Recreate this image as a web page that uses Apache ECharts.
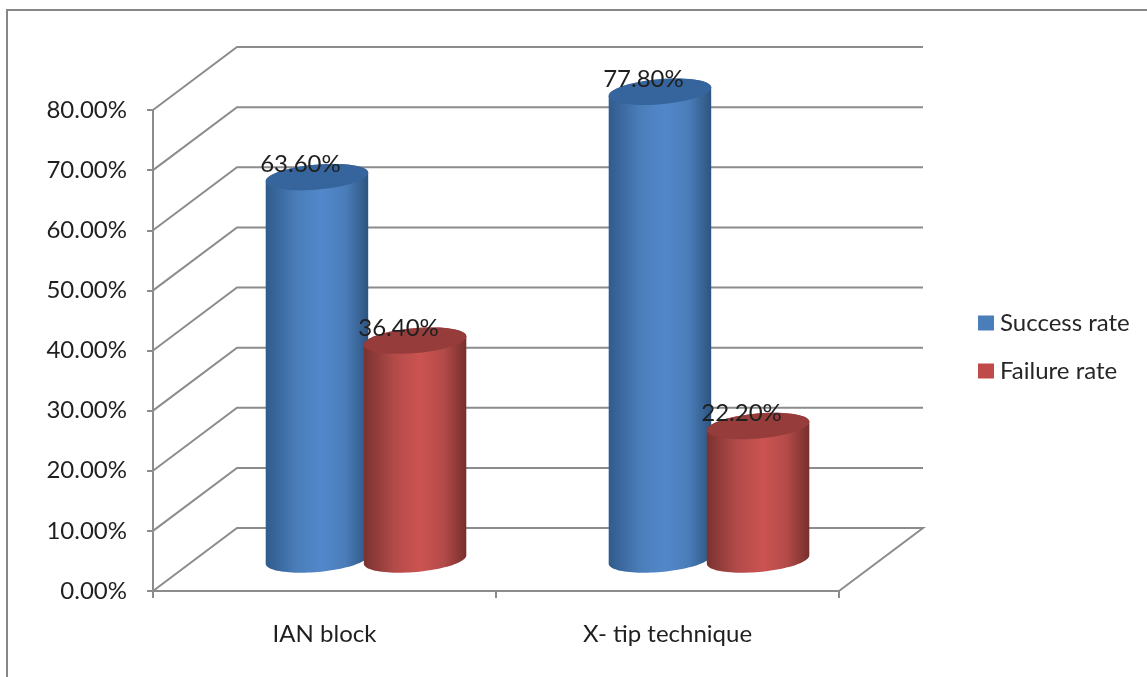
<!DOCTYPE html>
<html>
<head>
<meta charset="utf-8">
<style>
  html, body { margin: 0; padding: 0; background: #fff; }
  #chart { width: 1147px; height: 677px; }
</style>
<script src="https://cdn.jsdelivr.net/npm/echarts@6/dist/echarts.min.js"></script>
</head>
<body>
<div id="chart"></div>
<script>
var categories = ["IAN block", "X- tip technique"];
var successRate = [63.6, 77.8];
var failureRate = [36.4, 22.2];
var yTicks = [0, 10, 20, 30, 40, 50, 60, 70, 80];

var FONT = "Lato";
var LINE = "#8c8c8c";
var depthX = 84, depthY = 63; // 后墙相对前轴的偏移

var chart = echarts.init(document.getElementById("chart"));

// 斜椭圆取点
function ellipse(cx, cy, rx, ry, from, to) {
  var tilt = -5 * Math.PI / 180, pts = [], n = 48;
  for (var i = 0; i <= n; i++) {
    var a = from + (to - from) * i / n;
    var ex = rx * Math.cos(a), ey = ry * Math.sin(a);
    pts.push([
      cx + ex * Math.cos(tilt) - ey * Math.sin(tilt),
      cy + ex * Math.sin(tilt) + ey * Math.cos(tilt)
    ]);
  }
  return pts;
}

// 后墙网格线
function renderWall(params, api) {
  var p = api.coord([0, api.value(1)]);
  var box = params.coordSys;
  var x0 = box.x, x1 = box.x + box.width;
  var pts = [[x0, p[1]], [x0 + depthX, p[1] - depthY], [x1 + depthX, p[1] - depthY]];
  if (api.value(1) === 0) pts.push([x1, p[1]]);
  return {
    type: "polyline",
    shape: { points: pts },
    style: { stroke: LINE, lineWidth: 2, fill: null }
  };
}

function cylinderRender(side, colors) {
  return function (params, api) {
    var band = api.size([1, 0])[0];
    var top = api.coord([api.value(0), api.value(1)]);
    var base = api.coord([api.value(0), 0]);
    var cx = top[0] + depthX / 2 - 0.5 + side * band * 0.143;
    var rx = band * 0.15, ry = 12.5;
    var topY = top[1] - depthY / 2, baseY = base[1] - depthY / 2;

    // 柱身：上半弧 + 下半弧
    var body = ellipse(cx, topY, rx, ry, Math.PI, 2 * Math.PI)
      .concat(ellipse(cx, baseY, rx, ry, 0, Math.PI));

    return {
      type: "group",
      children: [
        {
          type: "polygon",
          shape: { points: body },
          style: {
            fill: new echarts.graphic.LinearGradient(0, 0, 1, 0, [
              { offset: 0, color: colors[0] },
              { offset: 0.3, color: colors[1] },
              { offset: 0.55, color: colors[2] },
              { offset: 0.78, color: colors[1] },
              { offset: 1, color: colors[3] }
            ])
          }
        },
        {
          type: "polygon",
          shape: { points: ellipse(cx, topY, rx, ry, 0, 2 * Math.PI) },
          style: { fill: colors[4] }
        },
        {
          type: "text",
          style: {
            text: api.value(1).toFixed(2) + "%",
            x: cx - 16.5,
            y: topY - 12.5,
            align: "center",
            verticalAlign: "middle",
            fill: "#1f1f1f",
            font: "24px " + FONT
          }
        }
      ]
    };
  };
}

var option = {
  animation: false,
  backgroundColor: "#fff",
  graphic: [{
    type: "polyline",
    shape: { points: [[7, 677], [7, 10], [1147, 10]] },
    style: { stroke: "#878787", lineWidth: 2, fill: null },
    silent: true
  }],
  legend: {
    orient: "vertical",
    left: 973,
    top: 306,
    itemWidth: 16,
    itemHeight: 15,
    itemGap: 24,
    icon: "rect",
    textStyle: { fontFamily: FONT, fontSize: 24, color: "#262626", padding: [0, 0, 0, 1] },
    data: ["Success rate", "Failure rate"]
  },
  grid: { left: 153, right: 308, top: 110, bottom: 86 },
  xAxis: {
    type: "category",
    data: categories,
    axisLine: { lineStyle: { color: LINE, width: 2 } },
    axisTick: { show: true, length: 7, lineStyle: { color: LINE, width: 2 } },
    axisLabel: { fontFamily: FONT, fontSize: 24, color: "#1f1f1f", margin: 31 }
  },
  yAxis: {
    type: "value",
    min: 0,
    max: 80,
    interval: 10,
    splitLine: { show: false },
    axisLine: { show: true, lineStyle: { color: LINE, width: 2 } },
    axisTick: { show: true, length: 6, lineStyle: { color: LINE, width: 2 } },
    axisLabel: {
      fontFamily: FONT, fontSize: 24, color: "#1f1f1f", margin: 26,
      padding: [5, 0, 0, 0],
      formatter: function (v) { return v.toFixed(2) + "%"; }
    }
  },
  series: [
    {
      name: "wall",
      type: "custom",
      silent: true,
      renderItem: renderWall,
      data: yTicks.map(function (t) { return [0, t]; }),
      z: 1
    },
    {
      name: "Success rate",
      type: "custom",
      renderItem: cylinderRender(-1, ["#305b8c", "#4a7db9", "#5288cb", "#2d5480", "#35659c"]),
      itemStyle: { color: "#4a7ebb" },
      data: successRate.map(function (v, i) { return [i, v]; }),
      z: 2
    },
    {
      name: "Failure rate",
      type: "custom",
      renderItem: cylinderRender(1, ["#7a3230", "#b34b49", "#cc5351", "#762f2d", "#963d3b"]),
      itemStyle: { color: "#be4b48" },
      data: failureRate.map(function (v, i) { return [i, v]; }),
      z: 3
    }
  ]
};

chart.setOption(option);
window.addEventListener("resize", function () {
  chart.resize();
});
</script>
</body>
</html>
